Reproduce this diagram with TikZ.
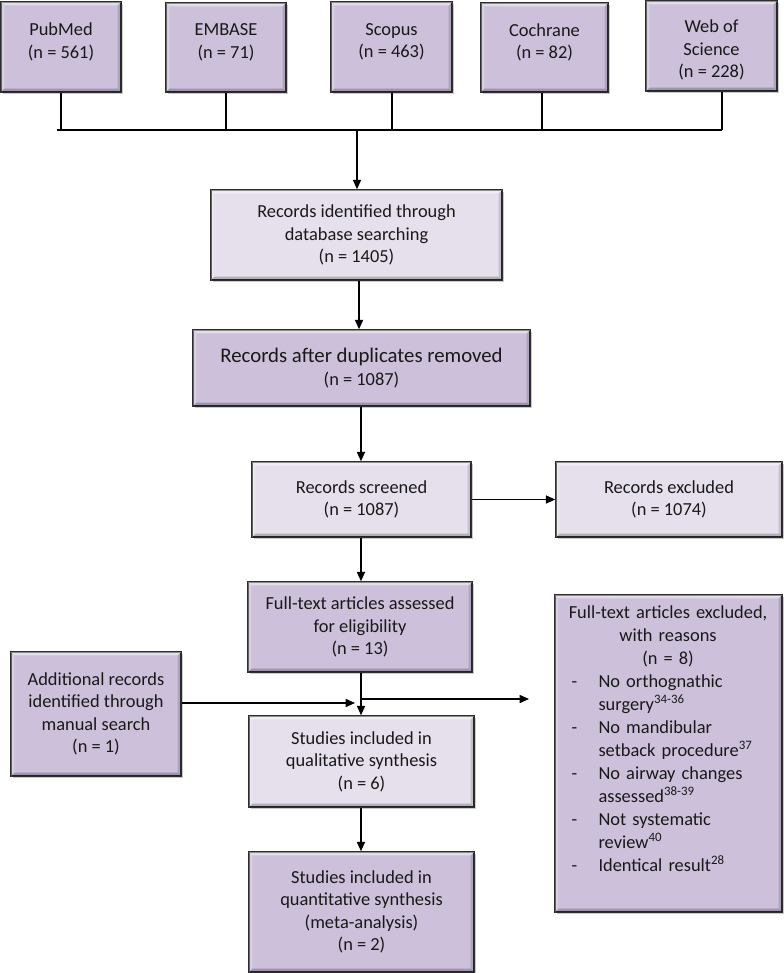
\documentclass[tikz,border=0pt]{standalone}
\usepackage{fontspec}
\setmainfont{Carlito}
\usetikzlibrary{arrows.meta,calc,shadows}
\definecolor{darkfill}{HTML}{CCC0DA}
\definecolor{lightfill}{HTML}{E6E0EC}
\definecolor{edgecol}{HTML}{2E2E2E}
\newcommand\boxfont{\fontsize{13.8}{16.9}\selectfont}
\tikzset{
  bx/.style={draw=edgecol, line width=1.1pt, inner sep=0pt, align=center,
    font=\boxfont, text=black!90,
    drop shadow={shadow xshift=1.2pt, shadow yshift=-1.2pt, opacity=0.35, fill=black!60}},
  darkbox/.style={bx, fill=darkfill},
  lightbox/.style={bx, fill=lightfill},
  conn/.style={line width=1.1pt, draw=black},
  arr/.style={conn, -{Triangle[length=7pt,width=6pt]}},
}
\newcommand\boxbevel[1]{%
  \fill[white, opacity=0.45] (#1.north west) -- (#1.north east) -- ($(#1.north east)+(-3pt,-3pt)$) -- ($(#1.north west)+(3pt,-3pt)$) -- cycle;
  \fill[white, opacity=0.25] (#1.north west) -- (#1.south west) -- ($(#1.south west)+(3pt,3pt)$) -- ($(#1.north west)+(3pt,-3pt)$) -- cycle;
  \fill[black, opacity=0.22] (#1.south west) -- (#1.south east) -- ($(#1.south east)+(-3pt,3pt)$) -- ($(#1.south west)+(3pt,3pt)$) -- cycle;
  \fill[black, opacity=0.14] (#1.north east) -- (#1.south east) -- ($(#1.south east)+(-3pt,3pt)$) -- ($(#1.north east)+(-3pt,-3pt)$) -- cycle;
  \draw[edgecol, line width=1.1pt] (#1.north west) rectangle (#1.south east);
}
\begin{document}
\begin{tikzpicture}[x=0.75pt,y=-0.75pt]
\useasboundingbox (0,0) rectangle (783,973);
% top databases
\node[darkbox, minimum width=90pt, minimum height=67.5pt] (pubmed) at (61,47) {PubMed\\(n = 561)\\[-7pt]\phantom{X}};
\node[darkbox, minimum width=90pt, minimum height=66.75pt] (embase) at (226,47.5) {EMBASE\\(n = 71)\\[-7pt]\phantom{X}};
\node[darkbox, minimum width=90.75pt, minimum height=67.5pt] (scopus) at (391.5,47) {Scopus\\(n = 463)\\[-7pt]\phantom{X}};
\node[darkbox, minimum width=95.25pt, minimum height=66.75pt] (cochrane) at (544.5,47.5) {Cochrane\\(n = 82)\\[-7pt]\phantom{X}};
\node[darkbox, minimum width=98.25pt, minimum height=67.5pt] (wos) at (711.5,46) {\rule{0pt}{15.5pt}Web of\\Science\\(n = 228)};
% main flow
\node[lightbox, minimum width=218.25pt, minimum height=67.5pt] (ident) at (356.5,235) {Records identified through\\database searching\\(n = 1405)};
\node[darkbox, minimum width=252.75pt, minimum height=57pt] (dup) at (361.5,368) {{\fontsize{15.6}{16.9}\selectfont Records after duplicates removed}\\(n = 1087)};
\node[lightbox, minimum width=164.25pt, minimum height=56.25pt] (screened) at (361.5,499.5) {Records screened\\(n = 1087)};
\node[lightbox, minimum width=169.5pt, minimum height=56.25pt] (excluded) at (669,499.5) {Records excluded\\(n = 1074)};
\node[darkbox, minimum width=168pt, minimum height=67.5pt] (fulltext) at (360,627) {Full-text articles assessed\\for eligibility\\(n = 13)};
\node[darkbox, minimum width=170.25pt, minimum height=237.75pt] (reasons) at (668.5,753.5) {};
\node[darkbox, minimum width=127.5pt, minimum height=93pt] (additional) at (96,714) {Additional records\\identified through\\manual search\\(n = 1)};
\node[lightbox, minimum width=168.75pt, minimum height=68.25pt] (qual) at (361.5,761.5) {Studies included in\\qualitative synthesis\\(n = 6)};
\node[darkbox, minimum width=168.75pt, minimum height=90pt] (quant) at (361.5,912) {Studies included in\\quantitative synthesis\\(meta-analysis)\\(n = 2)};
\foreach \n in {pubmed,embase,scopus,cochrane,wos,ident,dup,screened,excluded,fulltext,reasons,additional,qual,quant}{\boxbevel{\n}}
% reasons text
\node[anchor=north west, inner sep=0pt, text width=144.75pt, align=left,
      font=\fontsize{13.8}{17.25}\selectfont, text=black!90] (reasonstext)
  at ($(reasons.north west)+(12.75pt,-8.5pt)$)
  {\makebox[144.75pt]{Full-text articles excluded,}\\
   \makebox[144.75pt]{with reasons}\\
   \makebox[144.75pt]{(n = 8)}\\
   \makebox[20.25pt][l]{-}No orthognathic\\
   \hspace*{20.25pt}surgery\textsuperscript{34-36}\\
   \makebox[20.25pt][l]{-}No mandibular\\
   \hspace*{20.25pt}setback procedure\textsuperscript{37}\\
   \makebox[20.25pt][l]{-}No airway changes\\
   \hspace*{20.25pt}assessed\textsuperscript{38-39}\\
   \makebox[20.25pt][l]{-}Not systematic\\
   \hspace*{20.25pt}review\textsuperscript{40}\\
   \makebox[20.25pt][l]{-}Identical result\textsuperscript{28}};
% bus
\coordinate (busL) at (57,130);
\coordinate (busR) at (722,130);
\coordinate (bus) at (357,130);
\draw[conn] (busL) -- (busR);
\draw[conn] (pubmed.south) -- (pubmed.south |- bus);
\draw[conn] (embase.south) -- (embase.south |- bus);
\draw[conn] ([xshift=0.4pt]scopus.south) -- ([xshift=0.4pt]scopus.south |- bus);
\draw[conn] ([xshift=-1.9pt]cochrane.south) -- ([xshift=-1.9pt]cochrane.south |- bus);
\draw[conn] ([xshift=7.9pt]wos.south) -- ([xshift=7.9pt]wos.south |- bus);
\draw[arr] (bus) -- (bus |- ident.north);
% flow arrows
\draw[arr] ([xshift=1.9pt]ident.south) -- ([xshift=1.9pt]ident.south |- dup.north);
\draw[arr] ([xshift=-0.4pt]dup.south) -- ([xshift=-0.4pt]dup.south |- screened.north);
\draw[arr] (screened.east) -- (excluded.west);
\draw[arr] ([xshift=-0.4pt]screened.south) -- ([xshift=-0.4pt]screened.south |- fulltext.north);
\draw[arr] ([xshift=0.75pt]fulltext.south) -- ([xshift=0.75pt]fulltext.south |- qual.north);
\coordinate (jn) at (361,703);
\coordinate (jl) at (355,703);
\coordinate (jr) at (361,699);
\coordinate (rtip) at (529,699);
\draw[arr] (additional.east |- jn) -- (jl);
\draw[arr] (jr) -- (rtip);
\draw[arr] ([xshift=-0.4pt]qual.south) -- ([xshift=-0.4pt]qual.south |- quant.north);
\end{tikzpicture}
\end{document}
